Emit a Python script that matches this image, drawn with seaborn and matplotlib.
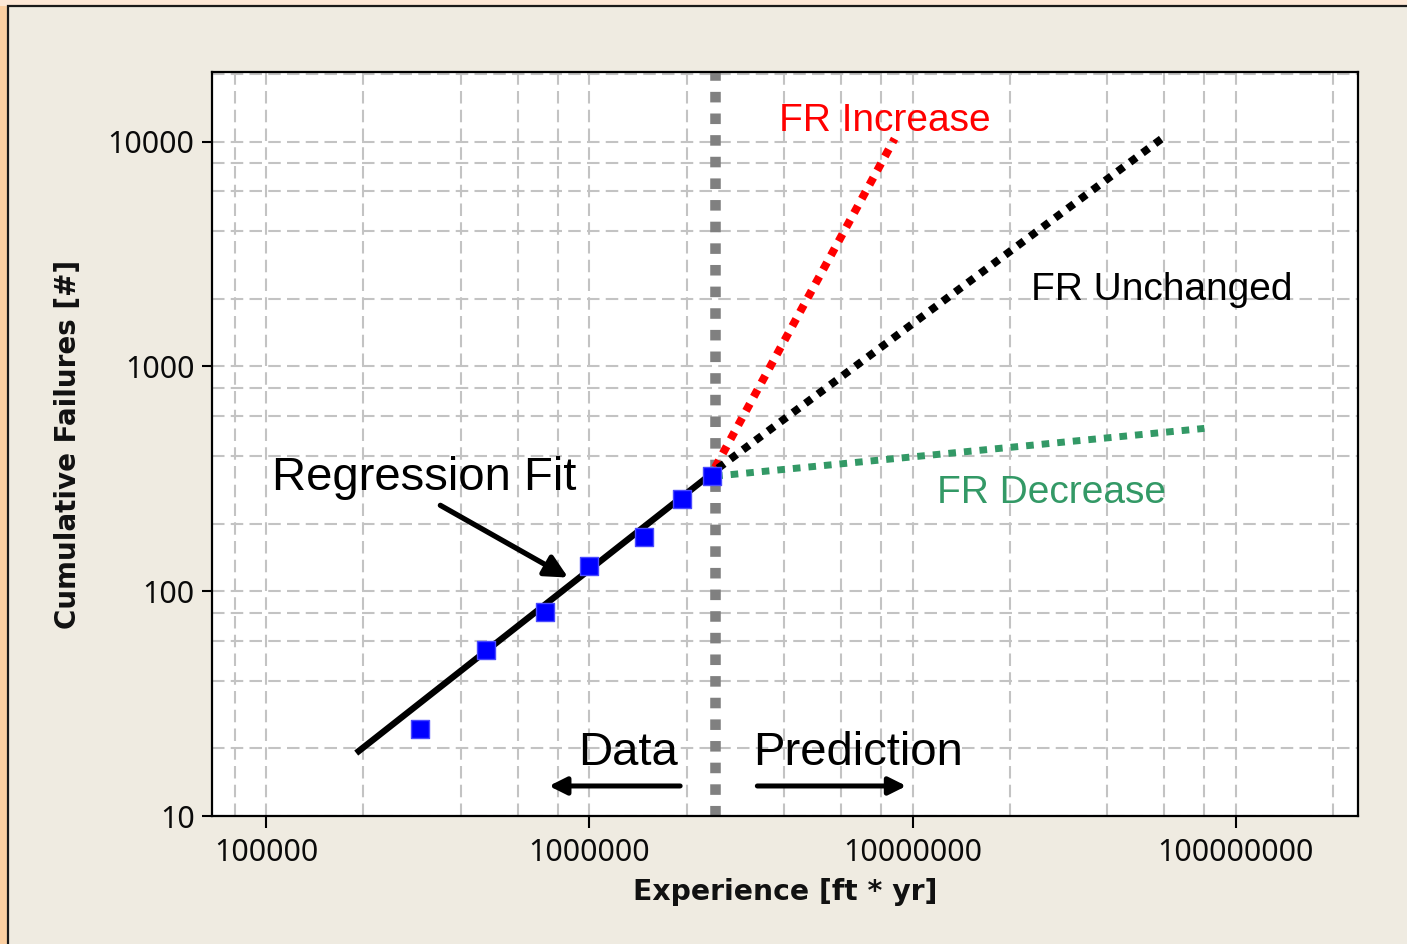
import numpy as np
import pandas as pd
import matplotlib
matplotlib.use("Agg")
import matplotlib.pyplot as plt
from matplotlib.ticker import LogLocator, NullFormatter, FixedLocator, FixedFormatter
from matplotlib.patches import Rectangle
import seaborn as sns

# ---------------- data ----------------
exp_data = [3.0e5, 4.8e5, 7.3e5, 1.0e6, 1.48e6, 1.93e6, 2.4e6]
fail_data = [24.4, 54.7, 80.7, 129, 174, 256, 324]

fit_x = [1.90e5, 2.4e6]
fit_y = [19.05, 335]

boundary_x = 2.45e6

inc_x = [2.45e6, 8.8e6]
inc_y = [355, 10300]
unc_x = [2.5e6, 5.9e7]
unc_y = [352, 10300]
dec_x = [2.45e6, 8.0e7]
dec_y = [325, 530]

x_ticks = [1e5, 1e6, 1e7, 1e8]
x_tick_labels = ["100000", "1000000", "10000000", "100000000"]
y_ticks = [10, 100, 1000, 10000]
y_tick_labels = ["10", "100", "1000", "10000"]

# ---------------- style ----------------
sns.set_theme(style="white")
plt.rcParams["font.family"] = ["Noto Sans", "DejaVu Sans"]

BG = "#efebe1"
fig = plt.figure(figsize=(14.07, 9.44), dpi=100, facecolor=BG)
W, H = 1407, 944

# outer frame decoration
fig.patches.append(Rectangle((0, 0), 8 / W, 1, transform=fig.transFigure,
                             facecolor="#fcd0a2", edgecolor="none", zorder=-5))
fig.patches.append(Rectangle((0, 1 - 6 / H), 1, 6 / H, transform=fig.transFigure,
                             facecolor="#fde8d6", edgecolor="none", zorder=-5))
fig.patches.append(Rectangle((8 / W, -0.1), 1.2, 1.1 - 6 / H, transform=fig.transFigure,
                             facecolor="none", edgecolor="#1a1a1a", lw=1.6, zorder=-4))

ax = fig.add_axes([212 / W, 1 - 816 / H, (1358 - 212) / W, (816 - 72) / H])
ax.set_facecolor("white")
ax.set_xscale("log")
ax.set_yscale("log")
ax.set_xlim(6.8e4, 2.39e8)
ax.set_ylim(10, 20400)

# grid
ax.xaxis.set_minor_locator(LogLocator(base=10, subs=[2, 4, 6, 8]))
ax.yaxis.set_minor_locator(LogLocator(base=10, subs=[2, 4, 6, 8]))
ax.xaxis.set_minor_formatter(NullFormatter())
ax.yaxis.set_minor_formatter(NullFormatter())
grid_kw = dict(color="#c3c3c3", lw=1.5, linestyle=(0, (6.0, 3.0)))
ax.grid(True, which="both", axis="both", **grid_kw)
ax.set_axisbelow(True)

# vertical boundary
ax.axvline(boundary_x, color="#808080", lw=7.6, linestyle=(0, (1, 1.05)),
           solid_capstyle="butt", dash_capstyle="butt", zorder=2)

# prediction lines
df_inc = pd.DataFrame({"x": inc_x, "y": inc_y})
df_unc = pd.DataFrame({"x": unc_x, "y": unc_y})
df_dec = pd.DataFrame({"x": dec_x, "y": dec_y})
sns.lineplot(data=df_inc, x="x", y="y", ax=ax, color="#ff0000", lw=5.8,
             linestyle=(0, (1, 1.0)), dash_capstyle="butt", zorder=3, estimator=None)
sns.lineplot(data=df_unc, x="x", y="y", ax=ax, color="#000000", lw=5.6,
             linestyle=(0, (1, 1.0)), dash_capstyle="butt", zorder=3, estimator=None)
sns.lineplot(data=df_dec, x="x", y="y", ax=ax, color="#339966", lw=5.0,
             linestyle=(0, (1.1, 1.15)), dash_capstyle="butt", zorder=3, estimator=None)

# regression fit
df_fit = pd.DataFrame({"x": fit_x, "y": fit_y})
sns.lineplot(data=df_fit, x="x", y="y", ax=ax, color="black", lw=4.6,
             solid_capstyle="butt", zorder=4, estimator=None)

# data points
df_pts = pd.DataFrame({"x": exp_data, "y": fail_data})
sns.scatterplot(data=df_pts, x="x", y="y", ax=ax, marker="s", s=150,
                color="#0000ff", edgecolor="#4a4aff", linewidth=1.0, zorder=5)

# ticks
ax.xaxis.set_major_locator(FixedLocator(x_ticks))
ax.xaxis.set_major_formatter(FixedFormatter(x_tick_labels))
ax.yaxis.set_major_locator(FixedLocator(y_ticks))
ax.yaxis.set_major_formatter(FixedFormatter(y_tick_labels))
ax.tick_params(axis="x", which="major", direction="out", length=8.5, width=1.5,
               color="black", labelsize=21.8, pad=7.5, bottom=True)
ax.tick_params(axis="y", which="major", direction="out", length=7, width=1.5,
               color="black", labelsize=21.8, pad=5.5, left=True)
ax.tick_params(which="minor", length=0)
for lab in ax.get_xticklabels() + ax.get_yticklabels():
    lab.set_color("#0a0a0a")

for sp in ax.spines.values():
    sp.set_color("black")
    sp.set_linewidth(1.6)
    sp.set_visible(True)

lfont = ["DejaVu Sans"]
ax.set_xlabel("Experience [ft * yr]", fontsize=20.3, fontweight="bold",
              family=lfont, color="#111111", va="center")
ax.set_ylabel("Cumulative Failures [#]", fontsize=20, fontweight="bold",
              family=lfont, color="#111111", va="center")
ax.xaxis.set_label_coords(0.5, -(892 - 816) / 744)
ax.yaxis.set_label_coords(-(212 - 68) / 1146, 0.5)

# annotations
afont = ["Liberation Sans", "DejaVu Sans"]
ax.text(1.04e5, 281, "Regression Fit", fontsize=34, family=afont, color="black",
        ha="left", va="baseline", zorder=6)
ax.text(9.25e5, 16.9, "Data", fontsize=34, family=afont, color="black",
        ha="left", va="baseline", zorder=6)
ax.text(3.22e6, 16.9, "Prediction", fontsize=34, family=afont, color="black",
        ha="left", va="baseline", zorder=6)
ax.text(3.87e6, 11200, "FR Increase", fontsize=28, family=afont, color="#ff0000",
        ha="left", va="baseline", zorder=6)
ax.text(2.32e7, 1965, "FR Unchanged", fontsize=28, family=afont, color="black",
        ha="left", va="baseline", zorder=6)
ax.text(1.19e7, 246, "FR Decrease", fontsize=28, family=afont, color="#339966",
        ha="left", va="baseline", zorder=6)

arrow_big = dict(arrowstyle="-|>", color="black", lw=3.8, mutation_scale=34,
                 shrinkA=0, shrinkB=0)
arrow_small = dict(arrowstyle="-|>", color="black", lw=3.6, mutation_scale=26,
                   shrinkA=0, shrinkB=0)
ax.annotate("", xy=(8.6e5, 115), xytext=(3.46e5, 241), arrowprops=arrow_big, zorder=6)
ax.annotate("", xy=(7.5e5, 13.6), xytext=(1.91e6, 13.6), arrowprops=arrow_small, zorder=6)
ax.annotate("", xy=(9.57e6, 13.6), xytext=(3.31e6, 13.6), arrowprops=arrow_small, zorder=6)

if ax.get_legend() is not None:
    ax.get_legend().remove()

fig.savefig("out.png", dpi=100, facecolor=BG)
